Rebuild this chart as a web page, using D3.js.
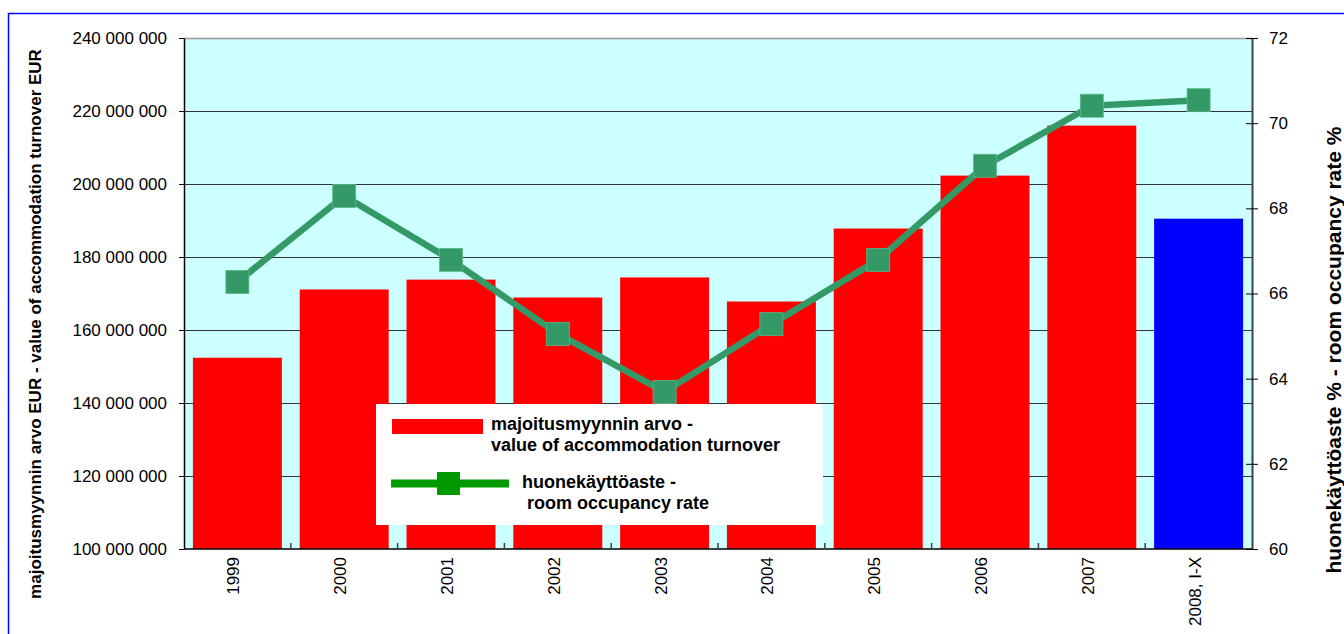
<!DOCTYPE html>
<html>
<head>
  <meta charset="utf-8">
  <title>Majoitusmyynti ja huonekäyttöaste</title>
  <style>
    body { margin: 0; background: #fff; }
    svg { display: block; font-family: "Liberation Sans", Arial, sans-serif; }
    .tick text { font-size: 17px; fill: #000; }
    .axis-title { font-size: 17px; font-weight: bold; }
    .legend text { font-size: 18px; font-weight: bold; }
  </style>
</head>
<body>
  <svg id="chart"></svg>

  <script src="https://d3js.org/d3.v7.min.js"></script>
  <script>
    // Data
    const years = ["1999", "2000", "2001", "2002", "2003", "2004", "2005", "2006", "2007", "2008, I-X"];
    const turnover = [152.4e6, 171.1e6, 173.8e6, 168.9e6, 174.4e6, 167.8e6, 187.8e6, 202.3e6, 216.0e6, 190.5e6];
    const occupancy = [66.27, 68.29, 66.79, 65.05, 63.69, 65.28, 66.79, 69.0, 70.41, 70.54];
    const leftTicks = [100e6, 120e6, 140e6, 160e6, 180e6, 200e6, 220e6, 240e6];
    const rightTicks = [60, 62, 64, 66, 68, 70, 72];

    const W = 1344, H = 634;
    const plot = { left: 184, right: 1252, top: 38, bottom: 549 };

    const svg = d3.select("#chart").attr("width", W).attr("height", H);

    // outer blue frame
    svg.append("rect")
      .attr("x", 8.5).attr("y", 13.5)
      .attr("width", W).attr("height", H)
      .attr("fill", "none").attr("stroke", "#0000ff").attr("stroke-width", 1.5);

    const x = d3.scaleBand()
      .domain(years)
      .range([plot.left, plot.right])
      .paddingInner(0.167)
      .paddingOuter(0.0835);

    const yL = d3.scaleLinear().domain([100e6, 240e6]).range([plot.bottom, plot.top]);
    const yR = d3.scaleLinear().domain([60, 72]).range([plot.bottom, plot.top]);

    const fmt = d3.formatLocale({ decimal: ",", thousands: " ", grouping: [3], currency: ["", ""] }).format(",d");

    // plot background
    svg.append("rect")
      .attr("x", plot.left).attr("y", plot.top)
      .attr("width", plot.right - plot.left).attr("height", plot.bottom - plot.top)
      .attr("fill", "#ccffff");

    // gridlines
    svg.append("g").selectAll("line")
      .data(leftTicks.filter(d => d > 100e6 && d < 240e6))
      .join("line")
      .attr("x1", plot.left).attr("x2", plot.right)
      .attr("y1", d => Math.round(yL(d)) + 0.5).attr("y2", d => Math.round(yL(d)) + 0.5)
      .attr("stroke", "#333").attr("stroke-width", 1);

    svg.append("line")
      .attr("x1", plot.left).attr("x2", plot.right)
      .attr("y1", plot.top + 0.5).attr("y2", plot.top + 0.5)
      .attr("stroke", "#999").attr("stroke-width", 1.5);

    // bars
    svg.append("g").selectAll("rect")
      .data(years)
      .join("rect")
      .attr("x", d => x(d))
      .attr("width", x.bandwidth())
      .attr("y", (d, i) => yL(turnover[i]))
      .attr("height", (d, i) => yL(100e6) - yL(turnover[i]))
      .attr("fill", (d, i) => i === years.length - 1 ? "#0000ff" : "#ff0000");

    // occupancy line
    const cx = d => x(d) + x.bandwidth() / 2;
    const line = d3.line()
      .x((d, i) => cx(years[i]))
      .y(d => yR(d));

    svg.append("path")
      .datum(occupancy)
      .attr("d", line)
      .attr("fill", "none")
      .attr("stroke", "#339966")
      .attr("stroke-width", 6.5)
      .attr("stroke-linejoin", "round");

    const ms = 23;
    svg.append("g").selectAll("rect")
      .data(occupancy)
      .join("rect")
      .attr("x", (d, i) => cx(years[i]) - ms / 2)
      .attr("y", d => yR(d) - ms / 2)
      .attr("width", ms).attr("height", ms)
      .attr("fill", "#339966")
      .attr("stroke", "#5cb88a")
      .attr("stroke-width", 0.8);

    // left axis
    const gL = svg.append("g")
      .attr("transform", `translate(${plot.left},0)`)
      .call(d3.axisLeft(yL).tickValues(leftTicks).tickFormat(fmt).tickSize(5).tickPadding(12).tickSizeOuter(0));
    gL.select(".domain").attr("stroke", "#000").attr("stroke-width", 1.5);
    gL.selectAll(".tick line").attr("stroke", "#000");

    // right axis
    const gR = svg.append("g")
      .attr("transform", `translate(${plot.right},0)`)
      .call(d3.axisRight(yR).tickValues(rightTicks).tickSize(6).tickPadding(11).tickSizeOuter(0));
    gR.select(".domain").attr("stroke", "#404040").attr("stroke-width", 2);
    gR.selectAll(".tick line").attr("x1", -6).attr("stroke", "#000");

    // bottom axis
    svg.append("line")
      .attr("x1", plot.left).attr("x2", plot.right)
      .attr("y1", plot.bottom).attr("y2", plot.bottom)
      .attr("stroke", "#000").attr("stroke-width", 1.5);

    const bounds = years.slice(1).map(d => x(d) - x.step() * x.paddingInner() / 2);
    svg.append("g").selectAll("line")
      .data(bounds)
      .join("line")
      .attr("x1", d => d).attr("x2", d => d)
      .attr("y1", plot.bottom).attr("y2", plot.bottom - 6)
      .attr("stroke", "#404040").attr("stroke-width", 1.5);

    svg.append("g").selectAll("text")
      .data(years)
      .join("text")
      .attr("transform", d => `translate(${cx(d) - 4},${plot.bottom + 8}) rotate(-90)`)
      .attr("text-anchor", "end")
      .attr("dy", "0.35em")
      .style("font-size", "17px")
      .text(d => d);

    // axis titles
    svg.append("text")
      .attr("class", "axis-title")
      .attr("transform", "translate(35,324) rotate(-90)")
      .attr("text-anchor", "middle")
      .attr("dy", "0.35em")
      .text("majoitusmyynnin arvo EUR - value of accommodation turnover EUR");

    svg.append("text")
      .attr("class", "axis-title")
      .attr("transform", "translate(1334,350) rotate(-90)")
      .attr("text-anchor", "middle")
      .attr("dy", "0.35em")
      .style("font-size", "21px")
      .text("huonekäyttöaste % - room occupancy rate %");

    // legend
    const legend = svg.append("g").attr("class", "legend");
    legend.append("rect")
      .attr("x", 376).attr("y", 404).attr("width", 447).attr("height", 121)
      .attr("fill", "#fff");
    legend.append("rect")
      .attr("x", 392).attr("y", 419).attr("width", 91).attr("height", 15)
      .attr("fill", "#ff0000");
    legend.append("text").attr("x", 491).attr("y", 430).text("majoitusmyynnin arvo -");
    legend.append("text").attr("x", 491).attr("y", 451).text("value of accommodation turnover");
    legend.append("line")
      .attr("x1", 391).attr("x2", 509).attr("y1", 483.5).attr("y2", 483.5)
      .attr("stroke", "#009900").attr("stroke-width", 8);
    legend.append("rect")
      .attr("x", 437).attr("y", 472).attr("width", 23).attr("height", 23)
      .attr("fill", "#009900");
    legend.append("text").attr("x", 522).attr("y", 488).text("huonekäyttöaste -");
    legend.append("text").attr("x", 527).attr("y", 509).text("room occupancy rate");
  </script>
</body>
</html>
